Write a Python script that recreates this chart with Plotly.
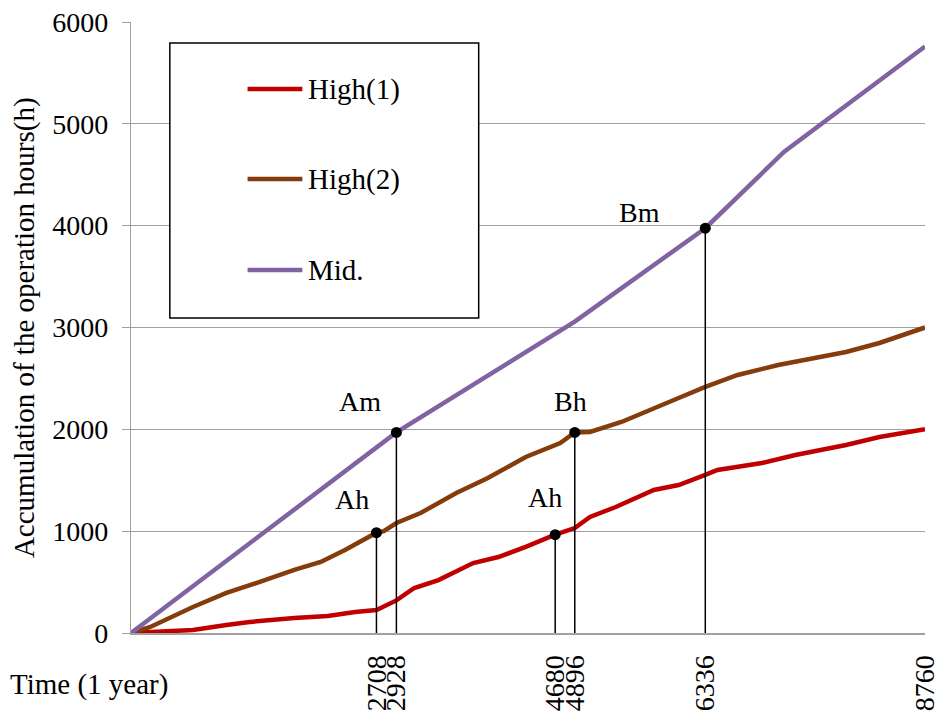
import plotly.graph_objects as go

# Cumulative operation hours over one year (8760 h)
hours_high1 = [0, 683, 1052, 1309, 1802, 2171, 2473, 2708, 2928, 3125, 3392, 3775, 4053, 4355,
               4680, 4896, 5064, 5348, 5768, 6042, 6336, 6470, 6961, 7330, 7889, 8257, 8760]
accum_high1 = [0, 29, 79, 108, 147, 167, 206, 226, 320, 442, 520, 687, 746, 845,
               965, 1031, 1139, 1237, 1404, 1453, 1552, 1601, 1669, 1748, 1846, 1925, 2000]

hours_high2 = [0, 213, 683, 1052, 1421, 1802, 2093, 2361, 2708, 2789, 2928, 3195, 3589, 3937,
               4355, 4736, 4896, 5064, 5411, 5768, 6042, 6336, 6693, 7140, 7520, 7889, 8257, 8760]
accum_high2 = [0, 59, 255, 393, 501, 619, 697, 815, 985, 1000, 1080, 1178, 1375, 1522,
               1728, 1866, 1970, 1974, 2072, 2210, 2308, 2416, 2534, 2632, 2700, 2759, 2848, 3000]

hours_mid = [0, 2928, 4896, 6336, 7207, 8760]
accum_mid = [0, 1970, 3057, 3975, 4727, 5760]

series_names = ["High(1)", "High(2)", "Mid."]
series_colors = ["#C00000", "#843C0C", "#8064A2"]

# Marked crossing points: label, time, accumulated hours
point_labels = ["Ah", "Am", "Ah", "Bh", "Bm"]
point_hours = [2708, 2928, 4680, 4896, 6336]
point_accum = [985, 1970, 965, 1970, 3975]
label_xshift = [-24, -36, -10, -4, -66]
label_yshift = [33, 31, 37, 31, 16]

x_ticks = [2708, 2928, 4680, 4896, 6336, 8760]
y_ticks = [0, 1000, 2000, 3000, 4000, 5000, 6000]

FONT = "Liberation Serif"
GRID = "#A0A0A0"

fig = go.Figure()

for xs, ys, name, color in zip([hours_high1, hours_high2, hours_mid],
                               [accum_high1, accum_high2, accum_mid],
                               series_names, series_colors):
    fig.add_trace(go.Scatter(x=xs, y=ys, mode="lines", name=name,
                             line=dict(color=color, width=4.5), showlegend=False))

# Drop lines from each marked point to the time axis
for xv, yv in zip(point_hours, point_accum):
    fig.add_trace(go.Scatter(x=[xv, xv], y=[0, yv], mode="lines",
                             line=dict(color="black", width=1.5),
                             showlegend=False, hoverinfo="skip"))

fig.add_trace(go.Scatter(x=point_hours, y=point_accum, mode="markers",
                         marker=dict(color="black", size=11),
                         showlegend=False))

for lab, xv, yv, dx, dy in zip(point_labels, point_hours, point_accum, label_xshift, label_yshift):
    fig.add_annotation(x=xv, y=yv, text=lab, showarrow=False, xshift=dx, yshift=dy,
                       font=dict(family=FONT, size=28, color="black"))

# Legend box drawn in paper coordinates
fig.add_shape(type="rect", xref="paper", yref="paper", x0=0.0489, x1=0.4379,
              y0=0.5155, y1=0.9656, line=dict(color="black", width=1.5),
              fillcolor="white", layer="above")
legend_y = [0.8903, 0.7430, 0.5940]
for name, color, ly in zip(series_names, series_colors, legend_y):
    fig.add_shape(type="line", xref="paper", yref="paper", x0=0.1468, x1=0.2158,
                  y0=ly, y1=ly, line=dict(color=color, width=4.5), layer="above")
    fig.add_annotation(xref="paper", yref="paper", x=0.2200, y=ly, text=name,
                       showarrow=False, xanchor="left", yanchor="middle",
                       font=dict(family=FONT, size=29, color="black"))

fig.add_annotation(xref="paper", yref="paper", x=-0.134, y=0.50,
                   text="Accumulation of the operation hours(h)", textangle=-90,
                   showarrow=False, xanchor="center", yanchor="middle",
                   font=dict(family=FONT, size=29, color="black"))
fig.add_annotation(xref="paper", yref="paper", x=-0.1555, y=-0.085,
                   text="Time (1 year)", showarrow=False, xanchor="left", yanchor="middle",
                   font=dict(family=FONT, size=29, color="black"))

fig.update_xaxes(range=[0, 8760], showgrid=False, zeroline=False, automargin=False,
                 showline=True, linecolor=GRID, linewidth=2,
                 tickmode="array", tickvals=x_ticks, ticktext=[str(v) for v in x_ticks],
                 tickangle=-90, ticks="", ticklabelstandoff=9,
                 ticklabeloverflow="allow",
                 tickfont=dict(family=FONT, size=28, color="black"))
fig.update_yaxes(range=[0, 6000], tickmode="array", tickvals=y_ticks, automargin=False,
                 showgrid=True, gridcolor=GRID, gridwidth=1.3, zeroline=False,
                 showline=True, linecolor=GRID, linewidth=1.3,
                 ticks="outside", ticklen=8, tickcolor=GRID, tickwidth=1.3,
                 ticklabelstandoff=8,
                 tickfont=dict(family=FONT, size=28, color="black"))

fig.update_layout(width=940, height=715, margin=dict(l=131, r=15, t=22, b=82),
                  paper_bgcolor="white", plot_bgcolor="white",
                  font=dict(family=FONT, color="black"))

fig.write_html("out.html")
